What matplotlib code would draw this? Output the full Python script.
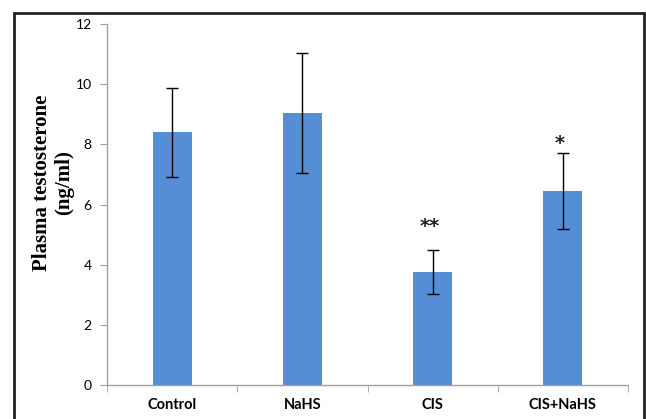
import matplotlib
matplotlib.use("Agg")
import matplotlib.pyplot as plt
from matplotlib.patches import Rectangle

categories = ["Control", "NaHS", "CIS", "CIS+NaHS"]
means = [8.4, 9.05, 3.75, 6.45]
errors = [1.48, 2.0, 0.74, 1.25]
stars = ["", "", "**", "*"]
star_offsets = [0, 0, 10, 0]
yticks = [0, 2, 4, 6, 8, 10, 12]

fig = plt.figure(figsize=(6.46, 4.19), dpi=100)
ax = fig.add_axes([107/646, 34/419, 521/646, 361/419])

x = list(range(len(categories)))
ax.bar(x, means, width=0.3, color="#558ed5", zorder=2)
ax.errorbar(x, means, yerr=errors, fmt="none", ecolor="black",
            elinewidth=1.0, capsize=4, capthick=1.0, zorder=3)
for xi, m, e, s, off in zip(x, means, errors, stars, star_offsets):
    if s:
        ax.annotate(s, (xi, m + e), xytext=(-2, off), textcoords="offset points",
                    ha="center", va="bottom", fontsize=14, fontweight="bold",
                    family="DejaVu Sans", color="#222222")

ax.set_xlim(-0.5, len(categories) - 0.5)
ax.set_ylim(0, 12)
ax.set_yticks(yticks)
ax.set_xticks(x)
ax.set_xticklabels(categories, fontsize=10.5, fontweight="bold", family="Lato")
for lab in ax.get_yticklabels():
    lab.set_fontsize(10)
    lab.set_family("Lato")
ax.set_xticks([i - 0.5 for i in range(len(categories) + 1)], minor=True)
ax.tick_params(axis="x", which="major", length=0, pad=9)
ax.tick_params(axis="x", which="minor", length=5, color="#a0a0a0", direction="out")
ax.tick_params(axis="y", length=5, color="#a0a0a0", direction="out", pad=6)

for side in ["top", "right"]:
    ax.spines[side].set_visible(False)
for side in ["left", "bottom"]:
    ax.spines[side].set_color("#a0a0a0")
    ax.spines[side].set_linewidth(1.0)

ax.set_ylabel("Plasma testosterone\n(ng/ml)", fontsize=15, fontweight="bold",
              family="Liberation Serif", linespacing=1.15, va="center", ha="center")
ax.yaxis.set_label_coords(-0.103, 0.56)

fig.patches.append(Rectangle((14/646, -0.05), (644 - 14)/646, (419 - 13)/419 + 0.05,
                             transform=fig.transFigure, fill=False,
                             edgecolor="#222222", linewidth=2.0))

fig.savefig("out.png", dpi=100)
